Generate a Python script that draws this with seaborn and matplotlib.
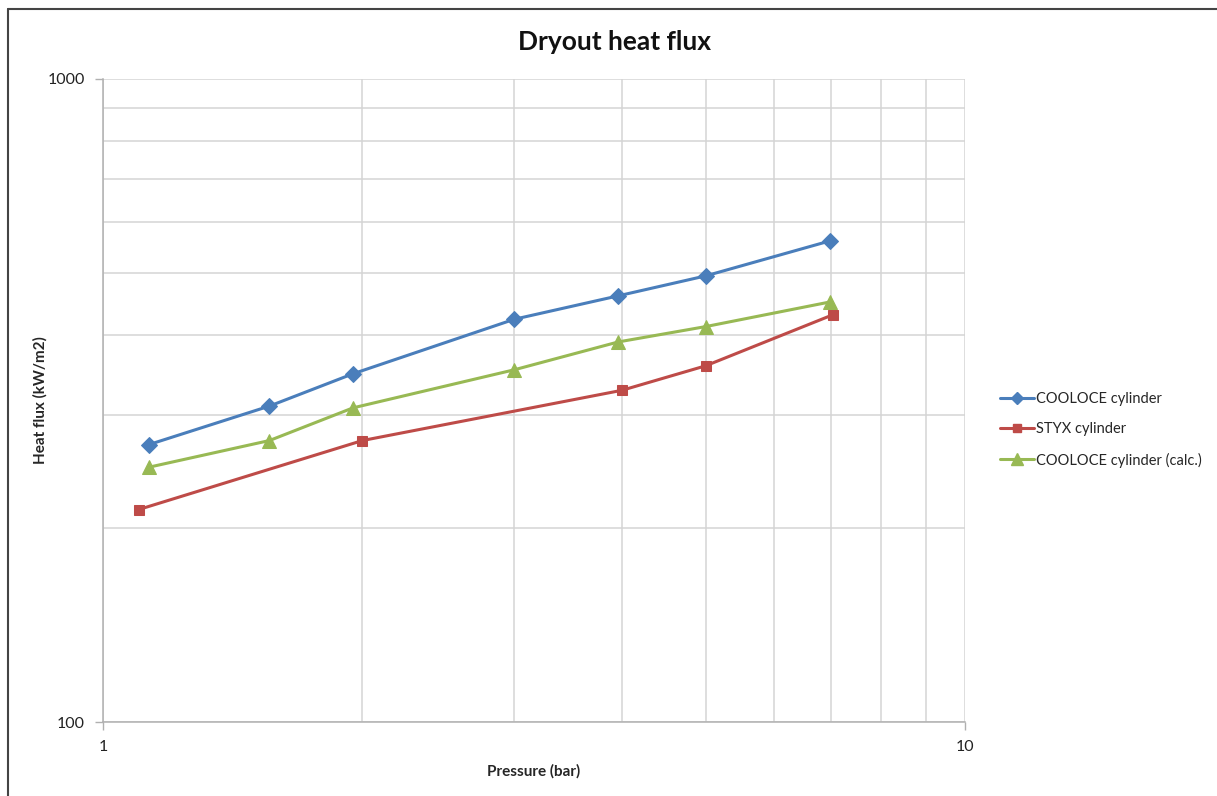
import matplotlib
matplotlib.use("Agg")
import matplotlib.pyplot as plt
import matplotlib.ticker as mticker
from matplotlib.lines import Line2D
import seaborn as sns
import pandas as pd

# Pressure (bar) and dryout heat flux (kW/m2) per series
cooloce_p = [1.13, 1.56, 1.95, 3.0, 3.96, 5.0, 6.97]
cooloce_q = [270, 310, 348, 423, 460, 494, 560]

styx_p = [1.10, 2.0, 4.0, 5.0, 7.03]
styx_q = [214, 274, 328, 358, 430]

calc_p = [1.13, 1.56, 1.95, 3.0, 3.96, 5.0, 6.97]
calc_q = [249, 274, 308, 353, 390, 412, 450]

series_names = ["COOLOCE cylinder", "STYX cylinder", "COOLOCE cylinder (calc.)"]
series_colors = ["#4a7ebb", "#be4b48", "#98b954"]
series_markers = ["D", "s", "^"]
series_msize = [8, 7.5, 10]

sns.set_theme(style="white")
plt.rcParams["font.family"] = ["Lato", "DejaVu Sans"]

fig = plt.figure(figsize=(12.17, 7.96), dpi=100)
ax = fig.add_axes([103 / 1217, 1 - 722 / 796, (965 - 103) / 1217, (722 - 79) / 796])

data = [(cooloce_p, cooloce_q), (styx_p, styx_q), (calc_p, calc_q)]
for (p, q), name, col, mk, ms in zip(data, series_names, series_colors, series_markers, series_msize):
    df = pd.DataFrame({"p": p, "q": q})
    sns.lineplot(data=df, x="p", y="q", ax=ax, color=col, marker=mk, markersize=ms,
                 markeredgecolor=col, linewidth=2.2, label=name, legend=False)

ax.set_xscale("log")
ax.set_yscale("log")
ax.set_xlim(1, 10)
ax.set_ylim(100, 1000)

ax.xaxis.set_major_locator(mticker.LogLocator(base=10, numticks=5))
ax.xaxis.set_minor_locator(mticker.LogLocator(base=10, subs=range(2, 10), numticks=10))
ax.yaxis.set_major_locator(mticker.LogLocator(base=10, numticks=5))
ax.yaxis.set_minor_locator(mticker.LogLocator(base=10, subs=range(2, 10), numticks=10))
ax.xaxis.set_major_formatter(mticker.FuncFormatter(lambda v, _: f"{v:g}"))
ax.yaxis.set_major_formatter(mticker.FuncFormatter(lambda v, _: f"{v:g}"))
ax.xaxis.set_minor_formatter(mticker.NullFormatter())
ax.yaxis.set_minor_formatter(mticker.NullFormatter())

ax.grid(True, which="both", color="#d4d4d4", linewidth=1.1)
ax.set_axisbelow(True)
for side in ["top", "right"]:
    ax.spines[side].set_visible(False)
for side in ["left", "bottom"]:
    ax.spines[side].set_color("#b0b0b0")
    ax.spines[side].set_linewidth(1.1)
ax.tick_params(which="major", direction="out", length=6, width=1, color="#b0b0b0",
               labelsize=11.5, labelcolor="#222222", pad=7, bottom=True, left=True)
ax.tick_params(which="minor", length=0)

ax.set_xlabel("Pressure (bar)", fontsize=11, fontweight="bold", labelpad=7)
ax.set_ylabel("Heat flux (kW/m2)", fontsize=11, fontweight="bold")
ax.yaxis.set_label_coords((48 - 103) / 862, 0.5)
fig.text(614 / 1217, 1 - 42 / 796, "Dryout heat flux", ha="center", va="center",
         fontsize=19, fontweight="bold", color="#111111")

handles = [Line2D([0], [0], color=c, marker=m, markersize=s * 0.8, markeredgecolor=c, linewidth=2.2)
           for c, m, s in zip(series_colors, series_markers, series_msize)]
fig.legend(handles, series_names, loc="center left", bbox_to_anchor=(1000 / 1217, 1 - 430 / 796),
           frameon=False, fontsize=10.5, handlelength=2.3, handletextpad=0.2, labelspacing=1.1,
           borderpad=0, borderaxespad=0)

# Outer chart frame (top and left edges)
fig.add_artist(Line2D([8 / 1217, 1], [1 - 9 / 796, 1 - 9 / 796], transform=fig.transFigure,
                      color="#444444", linewidth=1.5))
fig.add_artist(Line2D([8 / 1217, 8 / 1217], [0, 1 - 9 / 796], transform=fig.transFigure,
                      color="#444444", linewidth=1.5))

fig.savefig("out.png", dpi=100, facecolor="white")
